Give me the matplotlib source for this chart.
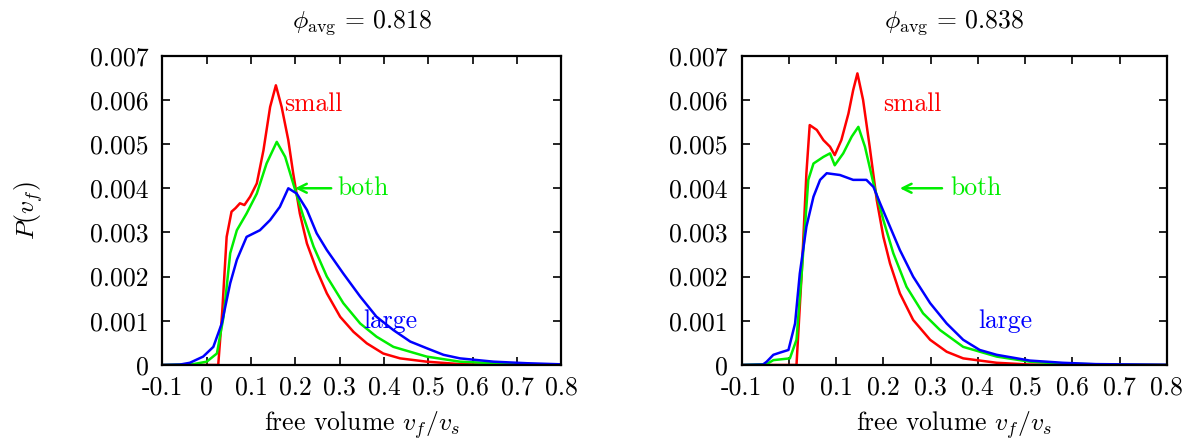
import matplotlib
matplotlib.use("Agg")
import matplotlib.pyplot as plt

plt.rcParams['font.family'] = 'cmr10'
plt.rcParams['mathtext.fontset'] = 'cm'
plt.rcParams['axes.unicode_minus'] = False

# ---- data (x = v_f/v_s, y = P in units of 1e-3) ----
L_small_x = [-0.1, 0.0, 0.026, 0.035, 0.045, 0.056, 0.065, 0.075, 0.085, 0.098, 0.113, 0.128, 0.143, 0.156,
             0.169, 0.184, 0.195, 0.21, 0.226, 0.248, 0.271, 0.301, 0.331, 0.361, 0.398, 0.436, 0.496, 0.571, 0.65, 0.8]
L_small_y = [0.0, 0.0, 0.0, 1.2, 2.9, 3.47, 3.55, 3.66, 3.62, 3.81, 4.11, 4.86, 5.84, 6.33,
             5.84, 5.09, 4.34, 3.43, 2.75, 2.15, 1.62, 1.09, 0.75, 0.49, 0.26, 0.15, 0.075, 0.02, 0.005, 0.0]
L_both_x = [-0.1, -0.03, 0.0, 0.023, 0.038, 0.053, 0.068, 0.09, 0.113, 0.135, 0.158, 0.177, 0.195, 0.218,
            0.241, 0.271, 0.308, 0.346, 0.383, 0.421, 0.496, 0.571, 0.647, 0.722, 0.8]
L_both_y = [0.0, 0.02, 0.075, 0.26, 1.09, 2.53, 3.05, 3.43, 3.88, 4.56, 5.05, 4.71, 4.11, 3.36,
            2.68, 2.0, 1.40, 0.94, 0.64, 0.41, 0.19, 0.075, 0.04, 0.01, 0.0]
L_large_x = [-0.1, -0.06, -0.038, -0.008, 0.015, 0.034, 0.053, 0.068, 0.09, 0.12, 0.143, 0.165, 0.184, 0.203,
             0.226, 0.248, 0.271, 0.308, 0.346, 0.383, 0.421, 0.459, 0.496, 0.534, 0.571, 0.647, 0.722, 0.8]
L_large_y = [0.0, 0.01, 0.05, 0.19, 0.41, 0.94, 1.85, 2.38, 2.9, 3.05, 3.28, 3.58, 4.0, 3.88,
             3.51, 2.98, 2.6, 2.07, 1.55, 1.09, 0.79, 0.53, 0.38, 0.23, 0.15, 0.075, 0.04, 0.015]

R_small_x = [-0.1, 0.0, 0.016, 0.027, 0.037, 0.044, 0.059, 0.073, 0.087, 0.097, 0.111, 0.126, 0.136, 0.145,
             0.157, 0.171, 0.186, 0.2, 0.214, 0.235, 0.263, 0.299, 0.334, 0.369, 0.44, 0.51, 0.6, 0.8]
R_small_y = [0.0, 0.0, 0.0, 2.07, 4.34, 5.43, 5.32, 5.09, 4.94, 4.75, 5.09, 5.69, 6.22, 6.6,
             6.0, 4.94, 3.73, 2.9, 2.3, 1.62, 1.02, 0.57, 0.3, 0.15, 0.05, 0.01, 0.0, 0.0]
R_both_x = [-0.1, -0.047, -0.033, 0.002, 0.016, 0.027, 0.041, 0.052, 0.073, 0.087, 0.097, 0.115, 0.133, 0.147,
            0.161, 0.179, 0.2, 0.221, 0.249, 0.284, 0.32, 0.369, 0.44, 0.51, 0.58, 0.7, 0.8]
R_both_y = [0.0, 0.02, 0.11, 0.15, 0.57, 2.07, 4.19, 4.56, 4.71, 4.79, 4.52, 4.79, 5.17, 5.39,
            4.94, 4.11, 3.28, 2.53, 1.77, 1.17, 0.79, 0.41, 0.19, 0.075, 0.03, 0.005, 0.0]
R_large_x = [-0.1, -0.055, -0.047, -0.033, -0.019, -0.001, 0.013, 0.023, 0.037, 0.052, 0.066, 0.08, 0.108, 0.136,
             0.164, 0.179, 0.193, 0.214, 0.235, 0.263, 0.299, 0.334, 0.369, 0.404, 0.44, 0.51, 0.58, 0.65, 0.8]
R_large_y = [0.0, 0.01, 0.075, 0.23, 0.28, 0.34, 0.94, 2.07, 3.13, 3.81, 4.19, 4.34, 4.3, 4.19,
             4.19, 4.03, 3.66, 3.13, 2.6, 2.0, 1.4, 0.94, 0.57, 0.34, 0.23, 0.1, 0.05, 0.02, 0.005]

titles = [r'$\phi_{\mathrm{avg}}\,=\,0.818$', r'$\phi_{\mathrm{avg}}\,=\,0.838$']
x_ticks = [-0.1, 0.0, 0.1, 0.2, 0.3, 0.4, 0.5, 0.6, 0.7, 0.8]
x_tick_labels = ['-0.1', '0', '0.1', '0.2', '0.3', '0.4', '0.5', '0.6', '0.7', '0.8']
y_ticks = [0, 0.001, 0.002, 0.003, 0.004, 0.005, 0.006, 0.007]
y_tick_labels = ['0', '0.001', '0.002', '0.003', '0.004', '0.005', '0.006', '0.007']

panels = [
    dict(small=(L_small_x, L_small_y), both=(L_both_x, L_both_y), large=(L_large_x, L_large_y),
         small_pos=(0.175, 0.0059), both_pos=(0.295, 0.004), arrow=(0.287, 0.193), large_pos=(0.352, 0.001)),
    dict(small=(R_small_x, R_small_y), both=(R_both_x, R_both_y), large=(R_large_x, R_large_y),
         small_pos=(0.2, 0.0059), both_pos=(0.341, 0.004), arrow=(0.33, 0.229), large_pos=(0.401, 0.001)),
]

RED, GREEN, BLUE = '#ff0000', '#00ee00', '#0000ff'

fig = plt.figure(figsize=(11.99, 4.45), dpi=100)
axes = [fig.add_axes([0.1354, 0.1798, 0.3329, 0.695]),
        fig.add_axes([0.6186, 0.1798, 0.3545, 0.695])]

fs = 18.5
for ax, p, title in zip(axes, panels, titles):
    for key, col in (('small', RED), ('both', GREEN), ('large', BLUE)):
        xs, ys = p[key]
        ax.plot(xs, [v * 1e-3 for v in ys], color=col, lw=1.8)
    ax.set_xlim(-0.1, 0.8)
    ax.set_ylim(0, 0.007)
    ax.set_xticks(x_ticks)
    ax.set_xticklabels(x_tick_labels)
    ax.set_yticks(y_ticks)
    ax.set_yticklabels(y_tick_labels)
    ax.tick_params(direction='in', top=True, right=True, length=6, width=1.2, labelsize=fs)
    ax.tick_params(axis='y', pad=10)
    ax.tick_params(axis='x', pad=8)
    for s in ax.spines.values():
        s.set_linewidth(1.6)
    ax.set_title(title, fontsize=fs, pad=20)
    ax.set_xlabel(r'free volume $v_f/v_s$', fontsize=fs, labelpad=7)
    ax.text(p['small_pos'][0], p['small_pos'][1], 'small', color=RED, fontsize=fs, ha='left', va='center')
    ax.text(p['both_pos'][0], p['both_pos'][1], 'both', color=GREEN, fontsize=fs, ha='left', va='center')
    ax.annotate('', xy=(p['arrow'][1], 0.004), xytext=(p['arrow'][0], 0.004),
                arrowprops=dict(arrowstyle='->', color=GREEN, lw=1.8, mutation_scale=16))
    ax.text(p['large_pos'][0], p['large_pos'][1], 'large', color=BLUE, fontsize=fs, ha='left', va='center')

axes[0].set_ylabel(r'$P(v_f)$', fontsize=fs, labelpad=32)

fig.savefig('out.png', dpi=100)
